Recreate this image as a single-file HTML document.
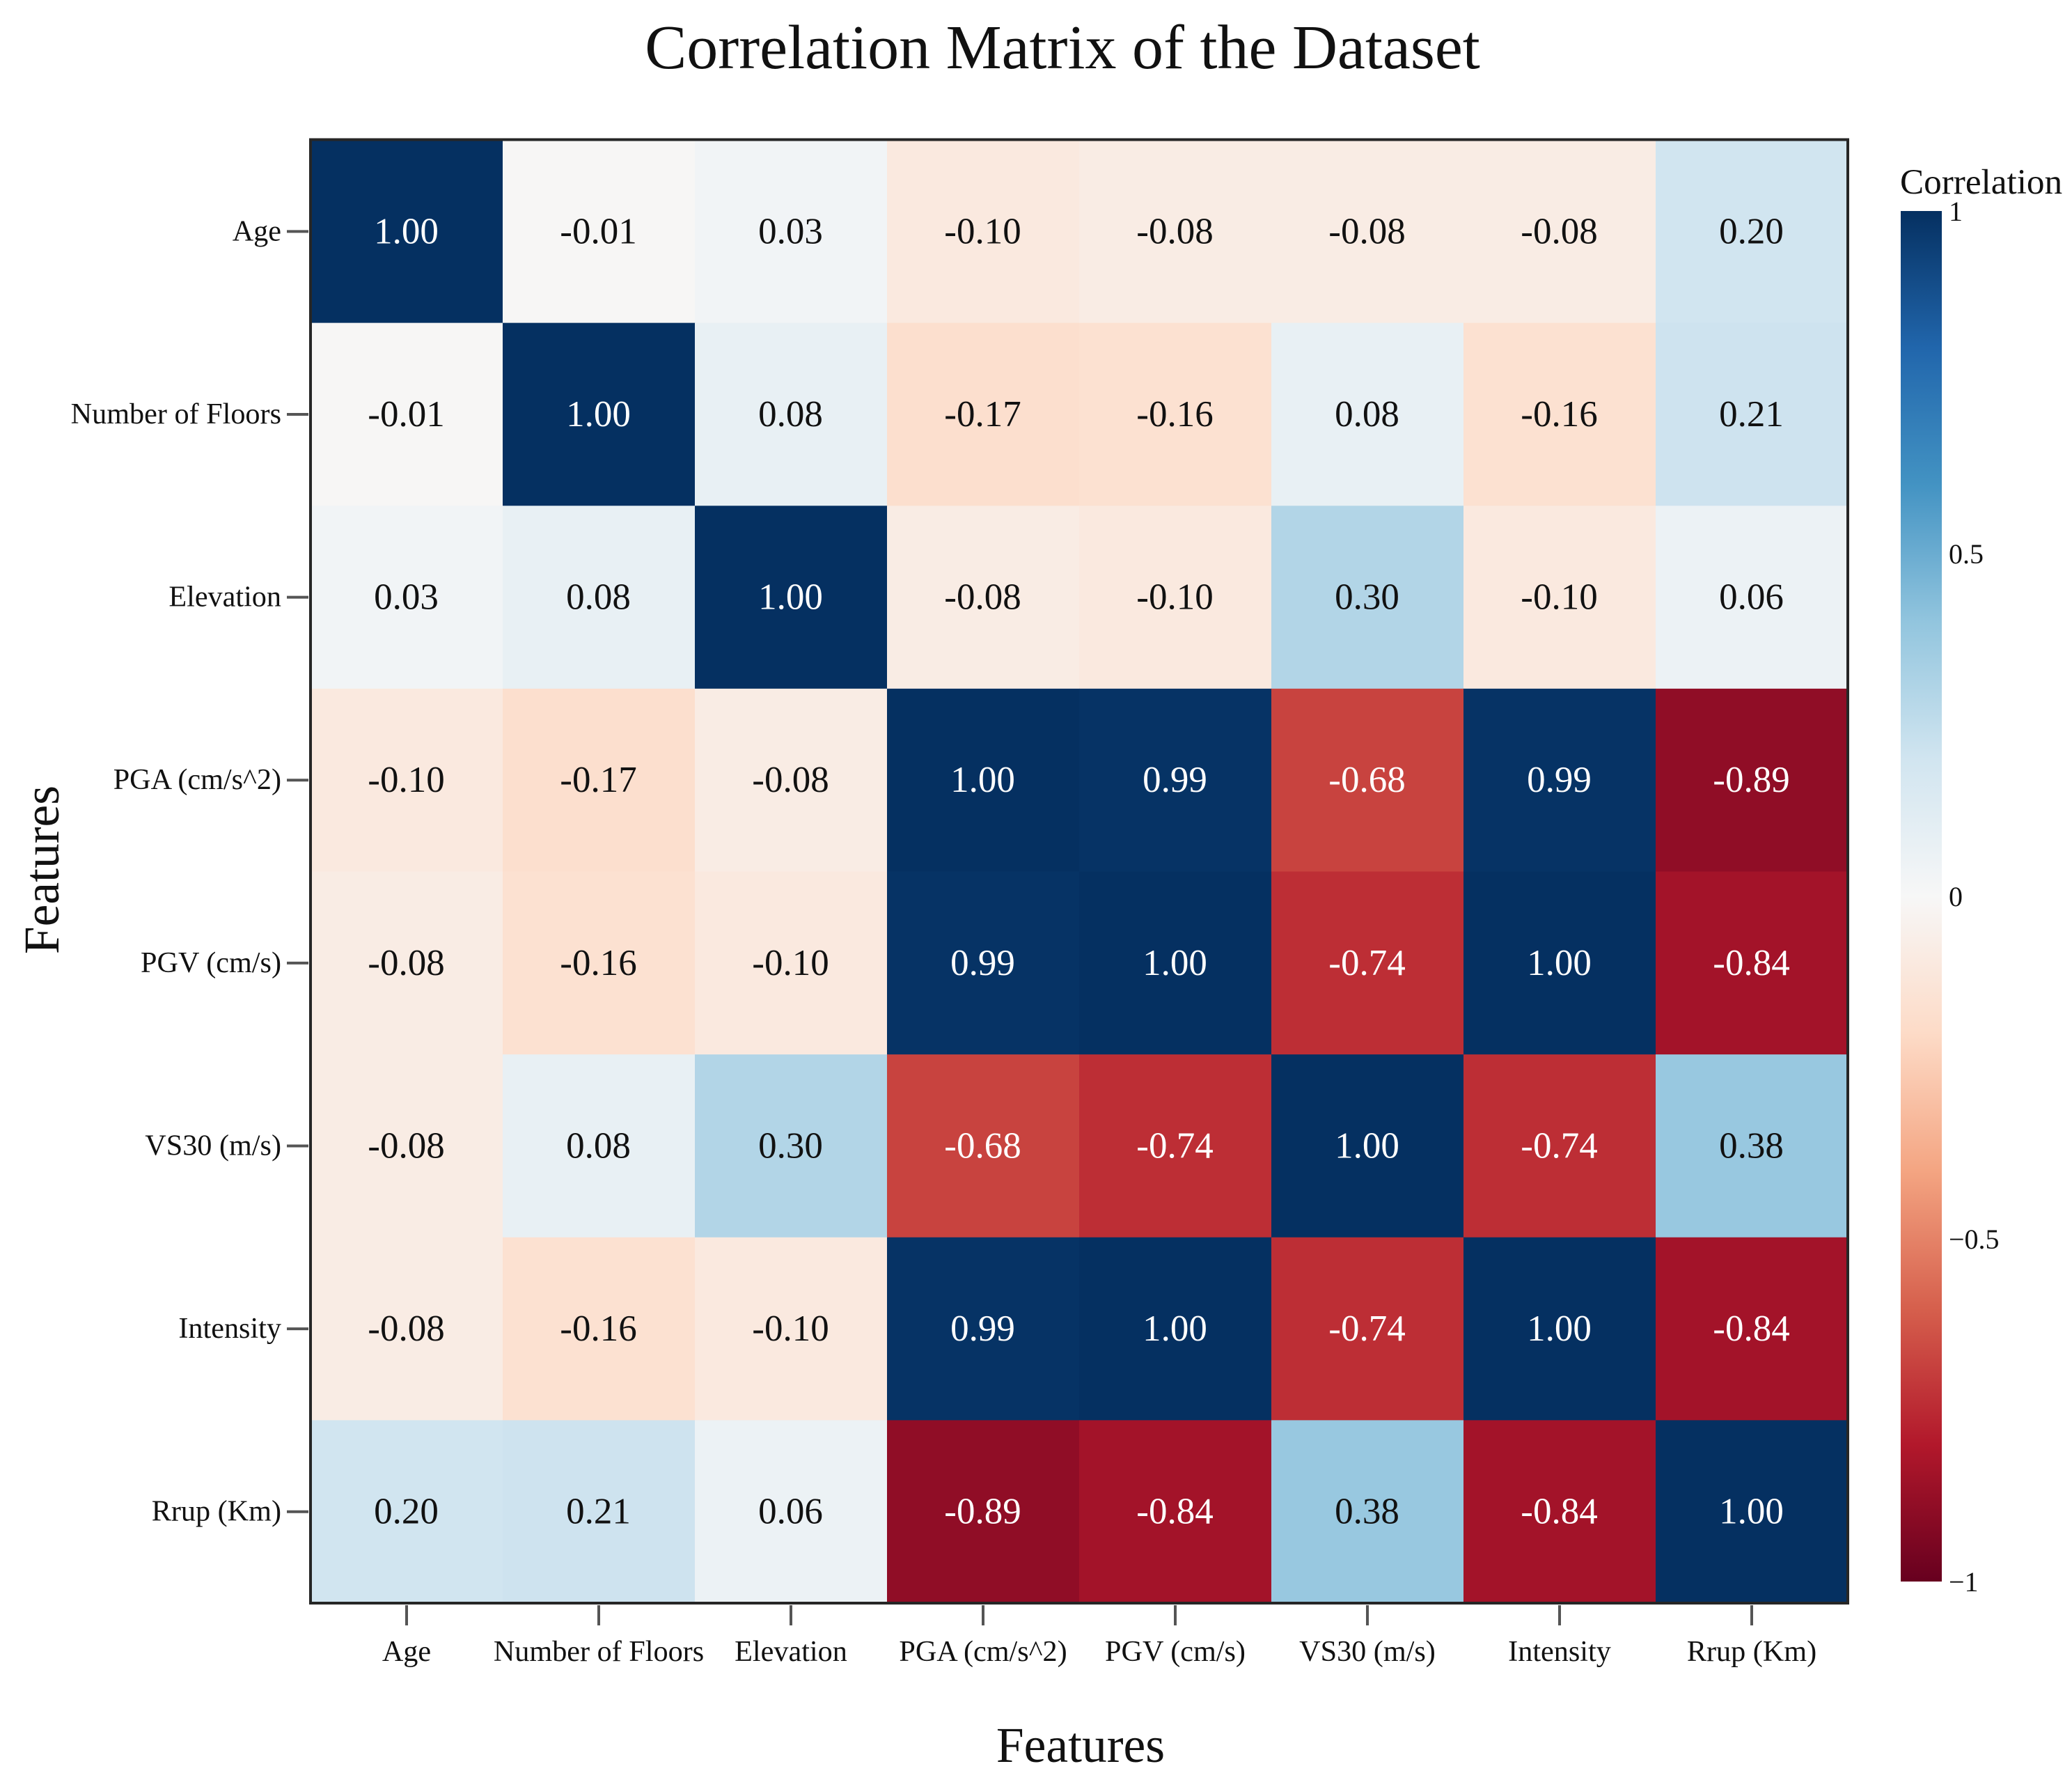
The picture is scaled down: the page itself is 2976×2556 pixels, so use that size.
<!DOCTYPE html>
<html lang="en">
<head>
<meta charset="utf-8">
<title>Correlation Matrix of the Dataset</title>
<style>
html,body{margin:0;padding:0;background:#fff;}
#chart{display:block;width:2976px;height:2556px;font-family:"Liberation Serif","Times New Roman",serif;}
</style>
</head>
<body>
<svg id="chart" xmlns="http://www.w3.org/2000/svg" width="2976" height="2556" viewBox="0 0 2976 2556">
  <defs>
    <linearGradient id="cbar-gradient" x1="0" y1="0" x2="0" y2="1"></linearGradient>
  </defs>
  <rect x="0" y="0" width="2976" height="2556" fill="#ffffff"></rect>
  <text x="1526" y="98" font-size="90" text-anchor="middle" fill="#111">Correlation Matrix of the Dataset</text>
  <g id="cells"></g>
  <g id="annotations"></g>
  <rect x="446" y="200.5" width="2208" height="2101.5" fill="none" stroke="#262626" stroke-width="4"></rect>
  <g id="y-axis"></g>
  <g id="x-axis"></g>
  <text x="1552" y="2530" font-size="71.5" text-anchor="middle" fill="#111">Features</text>
  <text transform="translate(84,1249) rotate(-90)" font-size="71.5" text-anchor="middle" fill="#111">Features</text>
  <text x="2729" y="278" font-size="51.2" fill="#111">Correlation</text>
  <rect x="2730" y="303" width="59" height="1968" fill="url(#cbar-gradient)"></rect>
  <g id="cbar-ticks"></g>
</svg>
<script>
const categories = ["Age", "Number of Floors", "Elevation", "PGA (cm/s^2)", "PGV (cm/s)", "VS30 (m/s)", "Intensity", "Rrup (Km)"];
const rowAge = [1.00, -0.01, 0.03, -0.10, -0.08, -0.08, -0.08, 0.20];
const rowFloors = [-0.01, 1.00, 0.08, -0.17, -0.16, 0.08, -0.16, 0.21];
const rowElevation = [0.03, 0.08, 1.00, -0.08, -0.10, 0.30, -0.10, 0.06];
const rowPGA = [-0.10, -0.17, -0.08, 1.00, 0.99, -0.68, 0.99, -0.89];
const rowPGV = [-0.08, -0.16, -0.10, 0.99, 1.00, -0.74, 1.00, -0.84];
const rowVS30 = [-0.08, 0.08, 0.30, -0.68, -0.74, 1.00, -0.74, 0.38];
const rowIntensity = [-0.08, -0.16, -0.10, 0.99, 1.00, -0.74, 1.00, -0.84];
const rowRrup = [0.20, 0.21, 0.06, -0.89, -0.84, 0.38, -0.84, 1.00];
const matrix = [rowAge, rowFloors, rowElevation, rowPGA, rowPGV, rowVS30, rowIntensity, rowRrup];
const colorbarTicks = [1, 0.5, 0, -0.5, -1];
const colorbarTickLabels = ["1", "0.5", "0", "\u22120.5", "\u22121"];
const palette = ["#67001f", "#b2182b", "#d6604d", "#f4a582", "#fddbc7", "#f7f7f7", "#d1e5f0", "#92c5de", "#4393c3", "#2166ac", "#053061"];

const NS = "http://www.w3.org/2000/svg";
const plotLeft = 446, plotTop = 201, plotWidth = 2208, plotHeight = 2101;
const cbarTop = 303, cbarBottom = 2271;
const cellW = plotWidth / categories.length;
const cellH = plotHeight / categories.length;

function xScale(i) { return plotLeft + i * cellW; }
function yScale(i) { return plotTop + i * cellH; }
function cbarScale(v) { return cbarBottom - (v + 1) / 2 * (cbarBottom - cbarTop); }
function hexToRgb(h) { return [1, 3, 5].map(function (k) { return parseInt(h.substr(k, 2), 16); }); }
function colorScale(v) {
  const t = Math.max(0, Math.min(1, (v + 1) / 2)) * (palette.length - 1);
  const lo = Math.min(Math.floor(t), palette.length - 2);
  const f = t - lo;
  const a = hexToRgb(palette[lo]), b = hexToRgb(palette[lo + 1]);
  return "rgb(" + a.map(function (c, k) { return Math.round(c + (b[k] - c) * f); }).join(",") + ")";
}
function make(tag, attrs, parent, text) {
  const el = document.createElementNS(NS, tag);
  Object.keys(attrs).forEach(function (k) { el.setAttribute(k, attrs[k]); });
  if (text !== undefined) el.textContent = text;
  parent.appendChild(el);
  return el;
}

const cellsG = document.getElementById("cells");
const annG = document.getElementById("annotations");
const yG = document.getElementById("y-axis");
const xG = document.getElementById("x-axis");
const cbG = document.getElementById("cbar-ticks");
const grad = document.getElementById("cbar-gradient");

matrix.forEach(function (row, r) {
  row.forEach(function (v, c) {
    const cell = make("rect", { x: xScale(c), y: yScale(r), width: cellW + 0.5, height: cellH + 0.5, fill: colorScale(v) }, cellsG);
    
    
    const label = make("text", {
      x: xScale(c) + cellW / 2 - 0.5,
      y: yScale(r) + cellH / 2 + 17,
      "font-size": 53,
      "text-anchor": "middle",
      fill: Math.abs(v) > 0.5 ? "#ffffff" : "#111111"
    }, annG, v.toFixed(2));
    
    
  });
});

categories.forEach(function (name, i) {
  const cy = yScale(i) + cellH / 2;
  const cx = xScale(i) + cellW / 2;
  const yTick = make("line", { x1: 412, x2: 443, y1: cy, y2: cy, stroke: "#555", "stroke-width": 4 }, yG);
  
  
  const yLabel = make("text", { x: 404, y: cy + 13, "font-size": 42.2, "text-anchor": "end", fill: "#111" }, yG, name);
  
  
  const xTick = make("line", { x1: cx, x2: cx, y1: 2305, y2: 2334, stroke: "#555", "stroke-width": 4 }, xG);
  
  
  const xLabel = make("text", { x: cx, y: 2385, "font-size": 42.2, "text-anchor": "middle", fill: "#111" }, xG, name);
  
  
});

palette.slice().reverse().forEach(function (col, i) {
  make("stop", { offset: (i / (palette.length - 1)), "stop-color": col }, grad);
});

colorbarTicks.forEach(function (v, i) {
  const t = make("text", { x: 2799, y: cbarScale(v) + 14, "font-size": 40, fill: "#111" }, cbG, colorbarTickLabels[i]);
  
  
});
</script>
</body>
</html>
